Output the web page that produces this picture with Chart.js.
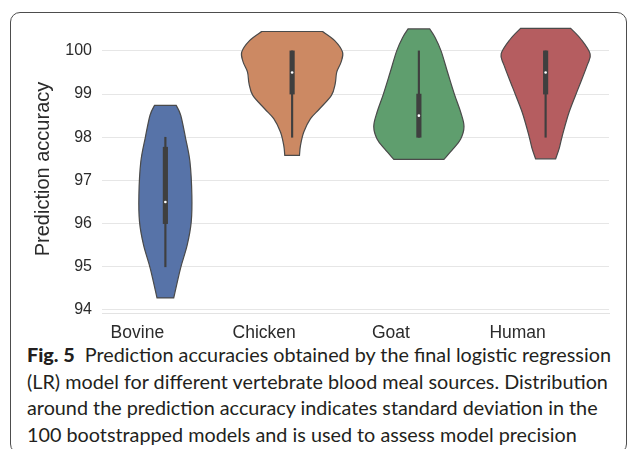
<!DOCTYPE html>
<html>
<head>
<meta charset="utf-8">
<script src="https://cdn.jsdelivr.net/npm/chart.js@4.4.1/dist/chart.umd.min.js"></script>
<style>
  html, body { margin: 0; padding: 0; background: #fff; }
  body { width: 629px; height: 449px; position: relative; overflow: hidden; }
  .frame {
    position: absolute; left: 10px; top: 12px; width: 615px; height: 440px;
    border: 1.5px solid #4d4d4d; border-radius: 10px;
  }
  #chart-wrap { position: absolute; left: 0; top: 0; width: 629px; height: 340px; }
  .caption {
    position: absolute; left: 27px; top: 341px; width: 600px;
    font-family: Lato, "Open Sans", sans-serif; font-size: 19.8px; line-height: 26.5px;
    color: #231f20; white-space: nowrap;
  }
  .caption b { font-weight: 900; }
</style>
</head>
<body>
<div class="frame"></div>
<div id="chart-wrap"><canvas id="violin-chart" width="629" height="340"></canvas></div>
<div class="caption"><b>Fig. 5</b>&nbsp; Prediction accuracies obtained by the final logistic regression<br>(LR) model for different vertebrate blood meal sources. Distribution<br>around the prediction accuracy indicates standard deviation in the<br>100 bootstrapped models and is used to assess model precision</div>
<script>
// Categories and axis ticks
const categories = ['Bovine', 'Chicken', 'Goat', 'Human'];
const yTicks = [94, 95, 96, 97, 98, 99, 100];

// Violin outlines: accuracy levels (top to bottom) and half widths in category units
const bovineLevels = [98.74, 98.51, 98.0, 97.43, 96.65, 96.04, 95.5, 94.96, 94.28];
const bovineWidths = [0.085, 0.121, 0.158, 0.194, 0.209, 0.204, 0.172, 0.119, 0.066];
const chickenLevels = [100.45, 100.24, 99.97, 99.74, 99.51, 99.24, 98.97, 98.66, 98.43, 98.12, 97.81, 97.58];
const chickenWidths = [0.240, 0.336, 0.398, 0.386, 0.352, 0.340, 0.310, 0.217, 0.145, 0.092, 0.066, 0.058];
const goatLevels = [100.51, 100.31, 100.0, 99.5, 99.0, 98.58, 98.25, 97.96, 97.73, 97.49];
const goatWidths = [0.085, 0.128, 0.175, 0.227, 0.280, 0.330, 0.356, 0.330, 0.270, 0.198];
const humanLevels = [100.52, 100.27, 99.93, 99.66, 99.12, 98.58, 98.04, 97.73, 97.5];
const humanWidths = [0.198, 0.279, 0.351, 0.327, 0.256, 0.185, 0.132, 0.106, 0.079];

// Inner box summaries
const whiskerLow = [95.0, 98.0, 98.0, 98.0];
const whiskerHigh = [98.0, 100.0, 100.0, 100.0];
const q1 = [96.0, 99.0, 98.0, 99.0];
const q3 = [97.77, 100.0, 99.0, 100.0];
const medians = [96.5, 99.5, 98.5, 99.5];

const violinColors = ['#5773a8', '#cc8963', '#5f9e6e', '#b55d60'];

const violins = [
    { levels: bovineLevels, widths: bovineWidths },
    { levels: chickenLevels, widths: chickenWidths },
    { levels: goatLevels, widths: goatWidths },
    { levels: humanLevels, widths: humanWidths }
];

// catmull-rom through points, as bezier segments
function curveThrough(ctx, pts) {
    for (let i = 0; i < pts.length - 1; i++) {
        const p0 = pts[i - 1] || pts[i];
        const p1 = pts[i];
        const p2 = pts[i + 1];
        const p3 = pts[i + 2] || p2;
        ctx.bezierCurveTo(
            p1.x + (p2.x - p0.x) / 6, p1.y + (p2.y - p0.y) / 6,
            p2.x - (p3.x - p1.x) / 6, p2.y - (p3.y - p1.y) / 6,
            p2.x, p2.y
        );
    }
}

const violinPlugin = {
    id: 'violinBodies',
    beforeDatasetsDraw(chart) {
        const { ctx, scales: { x, y } } = chart;
        const catWidth = x.getPixelForValue(1) - x.getPixelForValue(0);
        violins.forEach((v, i) => {
            const cx = x.getPixelForValue(i);
            const right = v.levels.map((lv, k) => ({ x: cx + v.widths[k] * catWidth, y: y.getPixelForValue(lv) }));
            const left = v.levels.map((lv, k) => ({ x: cx - v.widths[k] * catWidth, y: y.getPixelForValue(lv) })).reverse();
            ctx.save();
            ctx.beginPath();
            ctx.moveTo(right[0].x, right[0].y);
            curveThrough(ctx, right);
            ctx.lineTo(left[0].x, left[0].y);
            curveThrough(ctx, left);
            ctx.closePath();
            ctx.fillStyle = violinColors[i];
            ctx.fill();
            ctx.lineWidth = 1.2;
            ctx.strokeStyle = '#4a4a4a';
            ctx.stroke();
            ctx.restore();
        });
    }
};

const tickFont = { family: '"Liberation Sans", Arial, sans-serif', size: 16 };

new Chart(document.getElementById('violin-chart'), {
    type: 'bar',
    data: {
        labels: categories,
        datasets: [
            {
                label: 'whisker',
                data: whiskerLow.map((lo, i) => [lo, whiskerHigh[i]]),
                backgroundColor: '#3f3f3f',
                barThickness: 1.5,
                grouped: false,
                order: 3
            },
            {
                label: 'box',
                data: q1.map((lo, i) => [lo, q3[i]]),
                backgroundColor: '#3f3f3f',
                barThickness: 4.5,
                grouped: false,
                order: 2
            },
            {
                type: 'line',
                label: 'median',
                data: medians,
                showLine: false,
                pointRadius: 1.3,
                pointBackgroundColor: '#ffffff',
                pointBorderWidth: 0,
                order: 1
            }
        ]
    },
    options: {
        responsive: false,
        animation: false,
        layout: { padding: { left: 0, right: 20, top: 25, bottom: 0 } },
        plugins: {
            legend: { display: false },
            tooltip: { enabled: false }
        },
        scales: {
            x: {
                grid: { display: false },
                border: { display: true, color: '#e3e3e3', width: 1 },
                ticks: {
                    font: { family: tickFont.family, size: 17.5 },
                    color: '#2b2b2b',
                    padding: 2,
                    labelOffset: -28
                },
                afterFit(scale) { scale.height = 27; }
            },
            y: {
                min: 93.93,
                max: 100.6,
                afterBuildTicks(scale) {
                    scale.ticks = yTicks.map(v => ({ value: v }));
                },
                afterFit(scale) { scale.width = 102; },
                grid: { color: '#e6e6e6', lineWidth: 1, drawTicks: false },
                border: { display: false },
                ticks: {
                    font: tickFont,
                    color: '#2b2b2b',
                    padding: 10
                },
                title: {
                    display: true,
                    text: 'Prediction accuracy',
                    font: { family: tickFont.family, size: 20 },
                    color: '#2b2b2b',
                    padding: { top: 31, bottom: 0 }
                }
            }
        }
    },
    plugins: [violinPlugin]
});
</script>
</body>
</html>
